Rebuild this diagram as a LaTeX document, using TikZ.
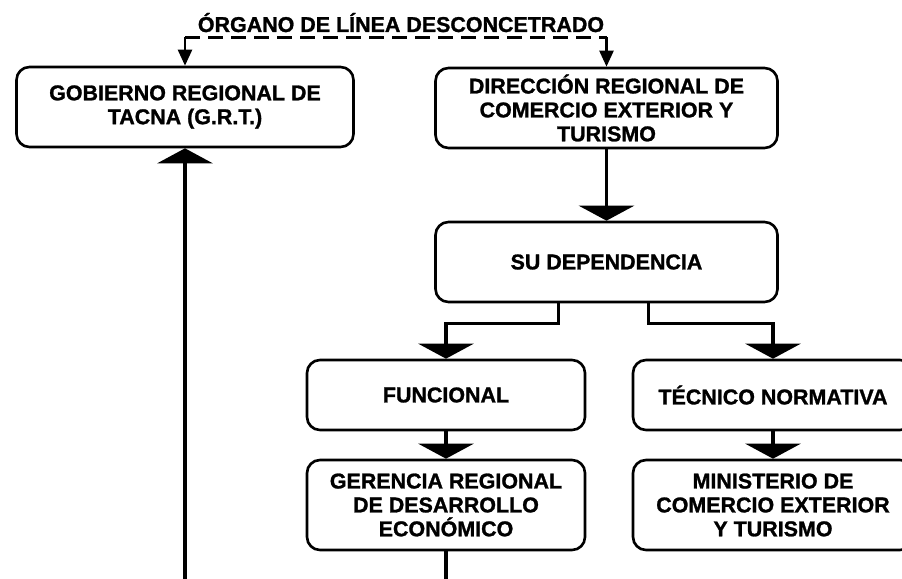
\documentclass[tikz,border=0pt]{standalone}
\usepackage{fontspec}
\setmainfont[BoldFeatures={FakeBold=1.2}]{Liberation Sans}
\usetikzlibrary{arrows.meta}

\begin{document}
\begin{tikzpicture}[>={Triangle[width=1.1cm,length=0.3cm]},
        orgbox/.style={draw, line width=1.5pt, rounded corners=0.26cm, fill=white, align=center,
            font=\bfseries\fontsize{12.2}{13.6}\selectfont},
        link/.style={line width=2pt},
        smallhead/.style={line width=1.4pt, -{Triangle[width=0.28cm,length=0.32cm]}}]
        \clip (0,0) rectangle (18.04,-11.58);

        % Title and dashed line over the two top boxes
        \node[anchor=base, font=\bfseries\fontsize{12.2}{13.6}\selectfont] (title) at (8.02,-0.64) {ÓRGANO DE LÍNEA DESCONCETRADO};
        \coordinate (dl) at (3.7,-0.75);
        \coordinate (dr) at (12.13,-0.75);

        % Boxes
        \node[orgbox, minimum width=6.74cm, minimum height=1.6cm] (grt) at (3.7,-2.14) {GOBIERNO REGIONAL DE\\TACNA (G.R.T.)};
        \node[orgbox, minimum width=6.84cm, minimum height=1.6cm] (dir) at (12.13,-2.16) {DIRECCIÓN REGIONAL DE\\COMERCIO EXTERIOR Y\\TURISMO};
        \node[orgbox, minimum width=6.84cm, minimum height=1.6cm] (su) at (12.13,-5.24) {SU DEPENDENCIA};
        \node[orgbox, minimum width=5.56cm, minimum height=1.4cm] (fun) at (8.92,-7.9) {FUNCIONAL};
        \node[orgbox, minimum width=5.6cm, minimum height=1.4cm] (tec) at (15.46,-7.9) {TÉCNICO NORMATIVA};
        \node[orgbox, minimum width=5.56cm, minimum height=1.8cm] (ger) at (8.92,-10.1) {GERENCIA REGIONAL\\DE DESARROLLO\\ECONÓMICO};
        \node[orgbox, minimum width=5.6cm, minimum height=1.8cm] (min) at (15.46,-10.1) {MINISTERIO DE\\COMERCIO EXTERIOR\\Y TURISMO};

        % Free ends at the bottom edge
        \coordinate (grtin) at (3.7,-11.58);
        \coordinate (gerout) at (8.92,-11.58);

        %Dashed link
        \draw[line width=1.3pt, dash pattern=on 0.3cm off 0.16cm] (dl) -- (dr);
        \draw[smallhead] (dl) -- (grt.north -| dl);
        \draw[smallhead] (dr) -- (dir.north -| dr);

        %Connectors
        \draw[link, ->] (dir) -- (su);
        \draw[link, ->] ([xshift=-0.96cm]su.south) -- ++(0,-0.4) -| (fun.north);
        \draw[link, ->] ([xshift=0.84cm]su.south) -- ++(0,-0.4) -| (tec.north);
        \draw[link, ->] (fun) -- (ger);
        \draw[link, ->] (tec) -- (min);
        \draw[link] (ger) -- (gerout);
        \draw[link, ->] (grtin) -- (grt);
\end{tikzpicture}
\end{document}
